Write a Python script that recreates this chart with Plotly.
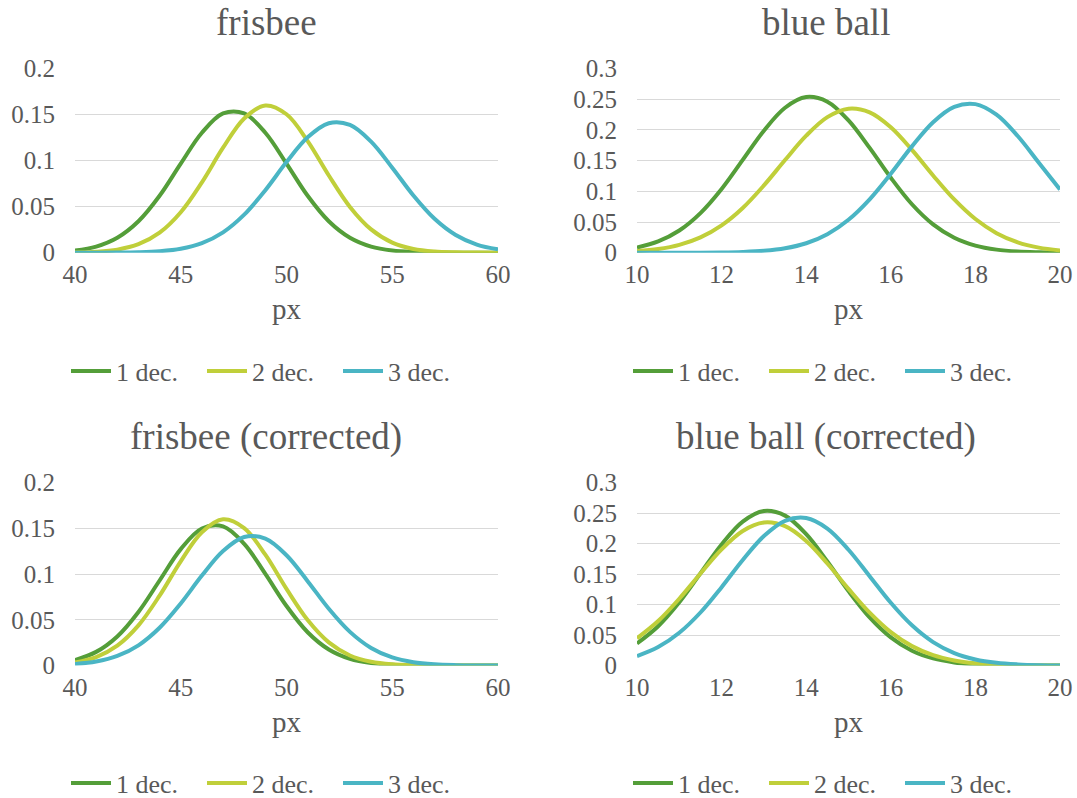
import plotly.graph_objects as go

# ---------------- data ----------------
series_names = ["1 dec.", "2 dec.", "3 dec."]
colors = ["#549E39", "#C0CF3A", "#4AB5C4"]

frisbee_x = [40, 41, 42, 43, 44, 45, 46, 47, 48, 49, 50, 51, 52, 53, 54, 55, 56, 57, 58, 59, 60]
ball_x = [10.0, 10.5, 11.0, 11.5, 12.0, 12.5, 13.0, 13.5, 14.0, 14.5, 15.0,
          15.5, 16.0, 16.5, 17.0, 17.5, 18.0, 18.5, 19.0, 19.5, 20.0]

frisbee_1 = [0.0023, 0.0066, 0.0162, 0.0341, 0.0618, 0.0967, 0.1302, 0.1512, 0.1512, 0.1302, 0.0967,
             0.0618, 0.0341, 0.0162, 0.0066, 0.0023, 0.0007, 0.0002, 0.0000, 0.0000, 0.0000]
frisbee_2 = [0.0003, 0.0010, 0.0033, 0.0092, 0.0217, 0.0439, 0.0764, 0.1140, 0.1458, 0.1599, 0.1503,
             0.1212, 0.0838, 0.0497, 0.0253, 0.0110, 0.0041, 0.0013, 0.0004, 0.0001, 0.0000]
frisbee_3 = [0.0000, 0.0000, 0.0001, 0.0005, 0.0016, 0.0043, 0.0104, 0.0221, 0.0413, 0.0679, 0.0984,
             0.1253, 0.1406, 0.1388, 0.1206, 0.0923, 0.0621, 0.0368, 0.0192, 0.0088, 0.0036]

ball_1 = [0.0084, 0.0183, 0.0361, 0.0645, 0.1038, 0.1512, 0.1987, 0.2361, 0.2535, 0.2459, 0.2155,
          0.1707, 0.1221, 0.0789, 0.0461, 0.0243, 0.0116, 0.0050, 0.0019, 0.0007, 0.0002]
ball_2 = [0.0026, 0.0060, 0.0128, 0.0250, 0.0446, 0.0729, 0.1096, 0.1509, 0.1906, 0.2208, 0.2346,
          0.2286, 0.2043, 0.1674, 0.1258, 0.0867, 0.0548, 0.0318, 0.0169, 0.0083, 0.0037]
ball_3 = [0.0000, 0.0000, 0.0000, 0.0001, 0.0004, 0.0012, 0.0031, 0.0072, 0.0154, 0.0302, 0.0537,
          0.0870, 0.1286, 0.1732, 0.2125, 0.2375, 0.2420, 0.2247, 0.1900, 0.1465, 0.1029]

frisbee_c1 = [0.0060, 0.0149, 0.0318, 0.0586, 0.0930, 0.1273, 0.1499, 0.1522, 0.1331, 0.1002, 0.0651,
              0.0364, 0.0175, 0.0073, 0.0026, 0.0008, 0.0002, 0.0000, 0.0000, 0.0000, 0.0000]
frisbee_c2 = [0.0033, 0.0092, 0.0217, 0.0439, 0.0764, 0.1140, 0.1458, 0.1599, 0.1503, 0.1212, 0.0838,
              0.0497, 0.0253, 0.0110, 0.0041, 0.0013, 0.0004, 0.0001, 0.0000, 0.0000, 0.0000]
frisbee_c3 = [0.0016, 0.0043, 0.0104, 0.0221, 0.0413, 0.0679, 0.0984, 0.1253, 0.1406, 0.1388, 0.1206,
              0.0923, 0.0621, 0.0368, 0.0192, 0.0088, 0.0036, 0.0013, 0.0004, 0.0001, 0.0000]

ball_c1 = [0.0361, 0.0645, 0.1038, 0.1512, 0.1987, 0.2361, 0.2535, 0.2459, 0.2155, 0.1707, 0.1221,
           0.0789, 0.0461, 0.0243, 0.0116, 0.0050, 0.0019, 0.0007, 0.0002, 0.0001, 0.0000]
ball_c2 = [0.0446, 0.0729, 0.1096, 0.1509, 0.1906, 0.2208, 0.2346, 0.2286, 0.2043, 0.1674, 0.1258,
           0.0867, 0.0548, 0.0318, 0.0169, 0.0083, 0.0037, 0.0015, 0.0006, 0.0002, 0.0001]
ball_c3 = [0.0154, 0.0302, 0.0537, 0.0870, 0.1286, 0.1732, 0.2125, 0.2375, 0.2420, 0.2247, 0.1900,
           0.1465, 0.1029, 0.0659, 0.0384, 0.0204, 0.0099, 0.0044, 0.0018, 0.0006, 0.0002]

titles = ["frisbee", "blue ball", "frisbee (corrected)", "blue ball (corrected)"]
x_ticks_frisbee = [40, 45, 50, 55, 60]
x_ticks_ball = [10, 12, 14, 16, 18, 20]

panels = [
    (frisbee_x, [frisbee_1, frisbee_2, frisbee_3], [40, 60], x_ticks_frisbee, [0, 0.2]),
    (ball_x, [ball_1, ball_2, ball_3], [10, 20], x_ticks_ball, [0, 0.3]),
    (frisbee_x, [frisbee_c1, frisbee_c2, frisbee_c3], [40, 60], x_ticks_frisbee, [0, 0.2]),
    (ball_x, [ball_c1, ball_c2, ball_c3], [10, 20], x_ticks_ball, [0, 0.3]),
]

# ---------------- layout geometry ----------------
W, H = 1077, 798
FONT = "Liberation Serif"
TXT = "#595959"


def px(v):
    return v / W


def py(v):
    return 1 - v / H


x_dom = [[px(75), px(498)], [px(637), px(1060)]]
y_dom = [[py(252.7), py(68.5)], [py(665.5), py(482.7)]]
title_y = [py(22), py(437)]
xlabel_y = [py(309), py(722)]
legend_y = [py(371), py(783)]
legend_left = [px(66), px(628)]
center_x = [px(266), px(826)]
plot_center_x = [px(286.5), px(848.5)]

fig = go.Figure()
annotations = []

for i, (xs, ys_list, xr, xt, yr) in enumerate(panels):
    r, c = divmod(i, 2)
    n = i + 1
    xa = "x" if n == 1 else f"x{n}"
    ya = "y" if n == 1 else f"y{n}"
    leg = "legend" if n == 1 else f"legend{n}"
    for name, ys, col in zip(series_names, ys_list, colors):
        fig.add_trace(go.Scatter(
            x=xs, y=ys, name=name, mode="lines",
            line=dict(color=col, width=4, shape="spline", smoothing=1.0),
            xaxis=xa, yaxis=ya, legend=leg, showlegend=True,
            hoverinfo="skip",
        ))
    xkey = "xaxis" if n == 1 else f"xaxis{n}"
    ykey = "yaxis" if n == 1 else f"yaxis{n}"
    fig.layout[xkey] = dict(
        domain=x_dom[c], anchor=ya, range=xr, tickvals=xt,
        showgrid=False, zeroline=False, showline=False, ticks="",
        tickfont=dict(family=FONT, size=25, color=TXT), ticklabelstandoff=4,
        fixedrange=True, automargin=False,
    )
    fig.layout[ykey] = dict(
        domain=y_dom[r], anchor=xa, range=yr, dtick=0.05, tick0=0,
        showgrid=True, gridcolor="#D9D9D9", gridwidth=1.3,
        zeroline=False, showline=False, ticks="",
        tickfont=dict(family=FONT, size=25, color=TXT), ticklabelstandoff=19,
        fixedrange=True, automargin=False,
    )
    fig.layout[leg] = dict(
        orientation="h", x=legend_left[c], y=legend_y[r], xanchor="left", yanchor="middle",
        font=dict(family=FONT, size=26, color=TXT), bgcolor="rgba(0,0,0,0)",
        itemwidth=40, entrywidth=81, entrywidthmode="pixels",
        tracegroupgap=0, traceorder="normal",
    )
    annotations.append(dict(
        text=titles[i], x=center_x[c], y=title_y[r], xref="paper", yref="paper",
        xanchor="center", yanchor="middle", showarrow=False,
        font=dict(family=FONT, size=37, color=TXT),
    ))
    annotations.append(dict(
        text="px", x=plot_center_x[c], y=xlabel_y[r], xref="paper", yref="paper",
        xanchor="center", yanchor="middle", showarrow=False,
        font=dict(family=FONT, size=29, color=TXT),
    ))

fig.update_layout(
    width=W, height=H,
    margin=dict(l=0, r=0, t=0, b=0, autoexpand=False),
    paper_bgcolor="white", plot_bgcolor="white",
    annotations=annotations,
    font=dict(family=FONT, color=TXT),
)

fig.write_html("out.html", config={"displayModeBar": False},
               post_script="document.body.style.margin='0px';")
